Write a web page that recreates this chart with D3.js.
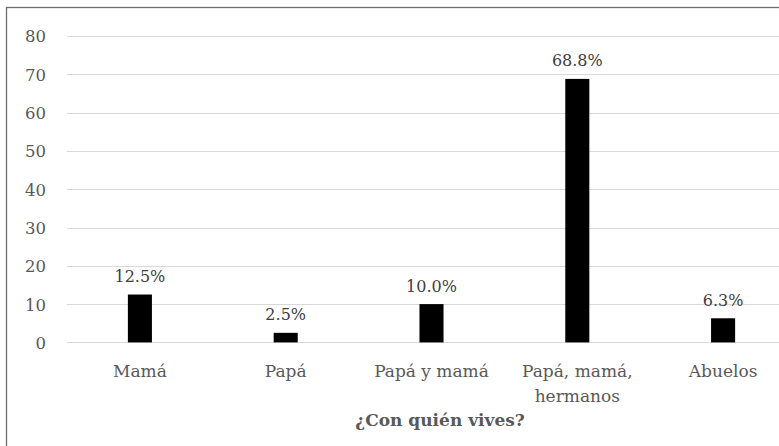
<!DOCTYPE html>
<html>
<head>
<meta charset="utf-8">
<script src="https://cdn.jsdelivr.net/npm/d3@7"></script>
<style>
  html, body { margin: 0; padding: 0; background: #fff; }
  svg { display: block; }
</style>
</head>
<body>
<svg id="chart" width="779" height="446"></svg>
<script>
// Household composition survey: share of respondents per living arrangement
const categories = [["Mamá"], ["Papá"], ["Papá y mamá"], ["Papá, mamá,", "hermanos"], ["Abuelos"]];
const values = [12.5, 2.5, 10.0, 68.8, 6.3];
const yTicks = [0, 10, 20, 30, 40, 50, 60, 70, 80];
const axisTitle = "¿Con quién vives?";

const font = "'DejaVu Serif', serif";
const svg = d3.select("#chart");

// Chart frame (extends past the right and bottom edges of the view)
svg.append("rect")
  .attr("x", 6.5).attr("y", 7.5)
  .attr("width", 900).attr("height", 600)
  .attr("fill", "#fff")
  .attr("stroke", "#6e6e6e")
  .attr("stroke-width", 1.3);

const keys = categories.map(c => c.join(" "));
const pi = 0.835;
const x = d3.scaleBand().domain(keys).range([67, 796]).paddingInner(pi).paddingOuter(pi / 2);
const y = d3.scaleLinear().domain([0, 80]).range([342.4, 36]);

// Horizontal gridlines
svg.append("g").selectAll("line").data(yTicks).join("line")
  .attr("x1", 67).attr("x2", 800)
  .attr("y1", d => Math.round(y(d)) + 0.5).attr("y2", d => Math.round(y(d)) + 0.5)
  .attr("stroke", "#d9d9d9").attr("stroke-width", 1);

// Y axis tick labels
const yAxis = d3.axisLeft(y).tickValues(yTicks).tickSize(0).tickPadding(0);
const gy = svg.append("g").attr("transform", "translate(46,0)").call(yAxis);
gy.select(".domain").remove();
gy.selectAll("text")
  .attr("font-family", font).attr("font-size", 16.5).attr("fill", "#595959")
  .attr("dy", "0.36em");

// Bars
svg.append("g").selectAll("rect").data(values).join("rect")
  .attr("x", (d, i) => x(keys[i]))
  .attr("width", x.bandwidth())
  .attr("y", d => y(d))
  .attr("height", d => y(0) - y(d))
  .attr("fill", "#000");

// Value labels
svg.append("g").selectAll("text").data(values).join("text")
  .attr("x", (d, i) => x(keys[i]) + x.bandwidth() / 2)
  .attr("y", d => y(d) - 12.5)
  .attr("text-anchor", "middle")
  .attr("font-family", font).attr("font-size", 16).attr("fill", "#404040")
  .text(d => d.toFixed(1) + "%");

// Category labels (may wrap onto two lines)
const xl = svg.append("g").selectAll("text").data(categories).join("text")
  .attr("text-anchor", "middle")
  .attr("font-family", font).attr("font-size", 17).attr("fill", "#595959");
xl.each(function(lines, i) {
  const cx = x(keys[i]) + x.bandwidth() / 2;
  d3.select(this).selectAll("tspan").data(lines).join("tspan")
    .attr("x", cx)
    .attr("y", (l, j) => 377 + j * 25)
    .text(l => l);
});

// Axis title
svg.append("text")
  .attr("x", 440).attr("y", 426)
  .attr("text-anchor", "middle")
  .attr("font-family", font).attr("font-size", 17).attr("font-weight", "bold")
  .attr("fill", "#595959")
  .text(axisTitle);
</script>
</body>
</html>
